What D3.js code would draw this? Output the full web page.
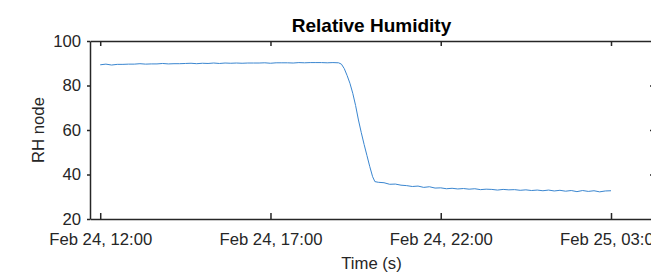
<!DOCTYPE html>
<html>
<head>
<meta charset="utf-8">
<script src="https://cdn.jsdelivr.net/npm/d3@7"></script>
<style>
    body { margin: 0; background: #fff; }
    text { font-family: "Liberation Sans", Arial, sans-serif; fill: #262626; }
</style>
</head>
<body>
<script>

//Sample times (month-day hour:minute) and RH readings
var times = [
    "02-24 12:00", "02-24 12:10", "02-24 12:20", "02-24 12:30", "02-24 12:40", "02-24 12:50",
    "02-24 13:00", "02-24 13:10", "02-24 13:20", "02-24 13:30", "02-24 13:40", "02-24 13:50",
    "02-24 14:00", "02-24 14:10", "02-24 14:20", "02-24 14:30", "02-24 14:40", "02-24 14:50",
    "02-24 15:00", "02-24 15:10", "02-24 15:20", "02-24 15:30", "02-24 15:40", "02-24 15:50",
    "02-24 16:00", "02-24 16:10", "02-24 16:20", "02-24 16:30", "02-24 16:40", "02-24 16:50",
    "02-24 17:00", "02-24 17:10", "02-24 17:20", "02-24 17:30", "02-24 17:40", "02-24 17:50",
    "02-24 18:00", "02-24 18:10", "02-24 18:20", "02-24 18:30", "02-24 18:40", "02-24 18:50",
    "02-24 19:00", "02-24 19:05", "02-24 19:10", "02-24 19:15", "02-24 19:20", "02-24 19:25",
    "02-24 19:30", "02-24 19:35", "02-24 19:40", "02-24 19:45", "02-24 19:50", "02-24 19:55",
    "02-24 20:00", "02-24 20:04", "02-24 20:10", "02-24 20:20", "02-24 20:30", "02-24 20:40",
    "02-24 20:50", "02-24 21:00", "02-24 21:10", "02-24 21:20", "02-24 21:30", "02-24 21:40",
    "02-24 21:50", "02-24 22:00", "02-24 22:10", "02-24 22:20", "02-24 22:30", "02-24 22:40",
    "02-24 22:50", "02-24 23:00", "02-24 23:10", "02-24 23:20", "02-24 23:30", "02-24 23:40",
    "02-24 23:50", "02-25 00:00", "02-25 00:10", "02-25 00:20", "02-25 00:30", "02-25 00:40",
    "02-25 00:50", "02-25 01:00", "02-25 01:10", "02-25 01:20", "02-25 01:30", "02-25 01:40",
    "02-25 01:50", "02-25 02:00", "02-25 02:10", "02-25 02:20", "02-25 02:30", "02-25 02:40",
    "02-25 02:50", "02-25 03:00"
];

var rh = [
    89.3, 89.6, 89.2, 89.5, 89.5, 89.6,
    89.6, 89.8, 89.6, 89.7, 89.7, 89.9,
    89.7, 89.8, 89.8, 89.9, 90.0, 89.8,
    90.0, 89.9, 90.1, 89.9, 90.1, 90.0,
    90.1, 90.0, 90.1, 90.1, 90.1, 90.2,
    90.0, 90.2, 90.2, 90.2, 90.1, 90.3,
    90.2, 90.3, 90.3, 90.3, 90.2, 90.3,
    90.2, 89.6, 87.6, 84.5, 81.0, 76.5,
    71.0, 64.5, 58.8, 53.5, 48.5, 43.5,
    39.0, 36.8, 36.5, 36.3, 35.6, 35.7,
    35.2, 35.0, 34.6, 34.8, 34.2, 34.5,
    33.9, 34.0, 33.6, 33.8, 33.5, 33.7,
    33.4, 33.6, 33.2, 33.4, 33.3, 33.0,
    33.3, 33.1, 33.2, 32.9, 33.1, 32.8,
    33.0, 32.7, 33.0, 32.6, 32.9, 32.5,
    32.8, 32.3, 32.8, 32.4, 32.7, 32.2,
    32.6, 32.7
];

//Axis limits and ticks
var xLimits = ["02-24 11:42", "02-25 04:14"];
var xTicks = ["02-24 12:00", "02-24 17:00", "02-24 22:00", "02-25 03:00"];
var xTickLabels = ["Feb 24, 12:00", "Feb 24, 17:00", "Feb 24, 22:00", "Feb 25, 03:00"];
var yLimits = [20, 100];
var yTicks = [20, 40, 60, 80, 100];

var w = 651;
var h = 274;

//Plot box (right edge runs off the picture)
var box = { left: 90, right: 653, top: 41, bottom: 219 };

var parse = d3.timeParse("%m-%d %H:%M");

var data = times.map(function(t, i) {
    return { t: parse(t), v: rh[i] };
});

//Set up scales
var x = d3.scaleTime()
    .domain(xLimits.map(parse))
    .range([box.left, box.right]);

var y = d3.scaleLinear()
    .domain(yLimits)
    .range([box.bottom, box.top]);

var svg = d3.select("body").append("svg")
    .attr("width", w)
    .attr("height", h);

//Data line
var line = d3.line()
    .x(function(d) { return x(d.t); })
    .y(function(d) { return y(d.v); });

svg.append("path")
    .datum(data)
    .attr("fill", "none")
    .attr("stroke", "#3a86d0")
    .attr("stroke-width", 1)
    .attr("d", line);

//Axes
var tickDates = xTicks.map(parse);

var xAxis = d3.axisBottom(x)
    .tickValues(tickDates)
    .tickSizeInner(-6)
    .tickSizeOuter(0)
    .tickPadding(14)
    .tickFormat(function(d, i) { return xTickLabels[i]; });

var xTop = d3.axisTop(x)
    .tickValues(tickDates)
    .tickSizeInner(-5)
    .tickSizeOuter(0)
    .tickFormat("");

var yAxis = d3.axisLeft(y)
    .tickValues(yTicks)
    .tickSizeInner(3)
    .tickSizeOuter(0)
    .tickPadding(6);

var yRight = d3.axisLeft(y)
    .tickValues(yTicks.slice(1, 4))
    .tickSizeInner(3)
    .tickSizeOuter(0)
    .tickFormat("");

var gx = svg.append("g")
    .attr("transform", "translate(0," + box.bottom + ")")
    .call(xAxis);

var gxt = svg.append("g")
    .attr("transform", "translate(0," + box.top + ")")
    .call(xTop);

var gy = svg.append("g")
    .attr("transform", "translate(" + box.left + ",0)")
    .call(yAxis);

var gyr = svg.append("g")
    .attr("transform", "translate(" + box.right + ",0)")
    .call(yRight);

[gx, gxt, gy, gyr].forEach(function(g) {
    g.select(".domain").attr("stroke", "#262626").attr("stroke-width", 1.5);
    g.selectAll(".tick line").attr("stroke", "#262626").attr("stroke-width", 1.5);
    g.selectAll(".tick text")
        .style("font-family", "'Liberation Sans', Arial, sans-serif")
        .style("font-size", "16.7px")
        .attr("fill", "#262626");
});

//Box right edge
svg.append("line")
    .attr("x1", box.right).attr("x2", box.right)
    .attr("y1", box.top).attr("y2", box.bottom)
    .attr("stroke", "#262626").attr("stroke-width", 1.5);

//Title and labels
svg.append("text")
    .attr("x", (box.left + box.right) / 2)
    .attr("y", 32)
    .attr("text-anchor", "middle")
    .style("font-size", "19px")
    .style("font-weight", "bold")
    .style("fill", "#000")
    .text("Relative Humidity");

svg.append("text")
    .attr("x", (box.left + box.right) / 2)
    .attr("y", 269)
    .attr("text-anchor", "middle")
    .style("font-size", "16.7px")
    .text("Time (s)");

svg.append("text")
    .attr("transform", "translate(43.5," + ((box.top + box.bottom) / 2) + ") rotate(-90)")
    .attr("text-anchor", "middle")
    .style("font-size", "16.7px")
    .text("RH node");

</script>
</body>
</html>
